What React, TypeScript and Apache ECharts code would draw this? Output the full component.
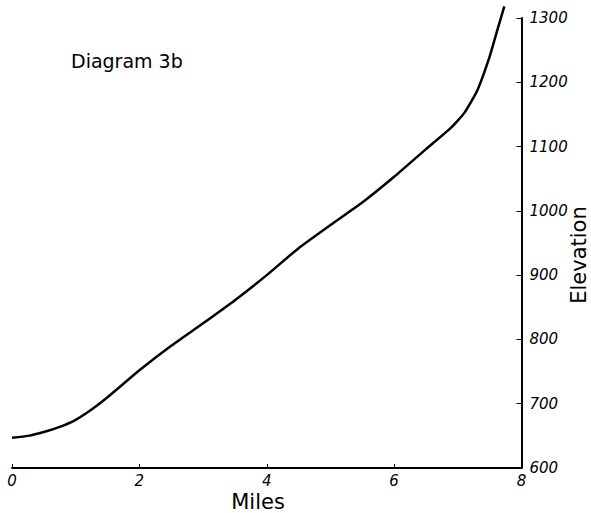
import React, { useEffect, useRef } from "react";
import * as echarts from "echarts";

const miles = [0, 0.25, 0.5, 0.75, 1.0, 1.25, 1.5, 1.75, 2.0, 2.5, 3.0, 3.5, 4.0, 4.5, 5.0, 5.5, 6.0, 6.5, 6.9, 7.1, 7.3, 7.5, 7.62, 7.73];
const elevation = [647, 650, 656, 664, 675, 691, 710, 731, 752, 790, 825, 861, 900, 942, 978, 1013, 1053, 1096, 1130, 1152, 1186, 1240, 1281, 1318];
const title = "Diagram 3b";
const xName = "Miles";
const yName = "Elevation";

export default function App() {
  const ref = useRef<HTMLDivElement>(null);
  useEffect(() => {
    if (!ref.current) return;
    const chart = echarts.init(ref.current, null, { renderer: "svg" });
    const labelFont = {
      fontFamily: "DejaVu Sans",
      fontStyle: "italic",
      fontSize: 15,
      color: "#000",
      formatter: (v: number) => String(v),
    };
    const nameStyle = { fontFamily: "DejaVu Sans", fontSize: 21, fill: "#000" };
    chart.setOption({
      animation: false,
      backgroundColor: "#fff",
      title: {
        text: title,
        left: 66,
        top: 46,
        textStyle: { fontFamily: "DejaVu Sans", fontSize: 19, fontWeight: "normal", color: "#000" },
      },
      grid: { left: 12, top: 18, width: 509.5, height: 450, containLabel: false, outerBoundsMode: "none" },
      xAxis: {
        type: "value",
        min: 0,
        max: 8,
        interval: 2,
        axisLine: { onZero: false, lineStyle: { color: "#000", width: 2 } },
        axisTick: { inside: true, length: 4, lineStyle: { color: "#000", width: 1 } },
        axisLabel: { ...labelFont, margin: 5 },
        splitLine: { show: false },
      },
      yAxis: {
        type: "value",
        position: "right",
        min: 600,
        max: 1300,
        interval: 100,
        axisLine: { onZero: false, lineStyle: { color: "#000", width: 2 } },
        axisTick: { inside: true, length: 5, lineStyle: { color: "#000", width: 1 } },
        axisLabel: { ...labelFont, margin: 8 },
        splitLine: { show: false },
      },
      graphic: [
        {
          type: "text",
          x: 258,
          y: 502,
          style: { ...nameStyle, text: xName, align: "center", verticalAlign: "middle" },
        },
        {
          type: "text",
          x: 579,
          y: 255,
          rotation: Math.PI / 2,
          style: { ...nameStyle, text: yName, align: "center", verticalAlign: "middle" },
        },
      ],
      series: [
        {
          type: "line",
          data: miles.map((m, i) => [m, elevation[i]]),
          smooth: 0.15,
          clip: false,
          showSymbol: false,
          lineStyle: { color: "#000", width: 2.5 },
        },
      ],
    });
    return () => chart.dispose();
  }, []);
  return <div ref={ref} style={{ position: "absolute", left: 0, top: 0, width: 591, height: 513 }} />;
}
